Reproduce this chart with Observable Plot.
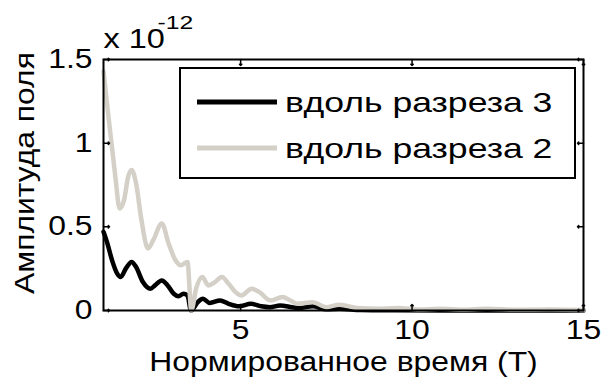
<!DOCTYPE html>
<html>
<head>
<meta charset="utf-8">
<script src="https://cdn.jsdelivr.net/npm/d3@7"></script>
<script src="https://cdn.jsdelivr.net/npm/@observablehq/plot@0.6"></script>
<style>
  html, body { margin: 0; padding: 0; background: white; }
  #chart { width: 611px; height: 389px; }
</style>
</head>
<body>
<div id="chart"></div>
<script>
// Series names and colours
const seriesNames = ["вдоль разреза 3", "вдоль разреза 2"];
const seriesColors = ["#000000", "#d4d0c8"];

// Series "вдоль разреза 3" (black), amplitude in units of 1e-12
const t3 = [1.0, 1.1, 1.25, 1.4, 1.5, 1.65, 1.82, 1.95, 2.15, 2.37, 2.5, 2.7, 2.87, 3.05, 3.19, 3.33, 3.45, 3.55, 3.75, 3.9, 4.1, 4.4, 4.65, 4.95, 5.3, 5.6, 5.85, 6.15, 6.5, 6.7, 7.1, 7.5, 7.9, 8.5, 9.5, 11, 15];
const v3 = [0.47, 0.41, 0.30, 0.22, 0.20, 0.25, 0.29, 0.26, 0.17, 0.13, 0.15, 0.18, 0.15, 0.10, 0.085, 0.10, 0.09, 0.0, 0.05, 0.07, 0.045, 0.06, 0.04, 0.025, 0.04, 0.025, 0.02, 0.03, 0.02, 0.015, 0.025, 0.008, 0.01, 0.003, 0.001, 0.0, 0.0];

// Series "вдоль разреза 2" (grey)
const t2 = [1.0, 1.1, 1.25, 1.35, 1.47, 1.6, 1.72, 1.82, 1.95, 2.1, 2.3, 2.45, 2.7, 2.9, 3.1, 3.25, 3.45, 3.56, 3.7, 3.88, 4.06, 4.25, 4.45, 4.65, 4.85, 5.02, 5.32, 5.55, 5.87, 6.22, 6.45, 6.66, 7.1, 7.5, 7.88, 8.4, 9.0, 9.6, 10.2, 10.8, 11.5, 12.2, 13.0, 14.0, 15.0];
const v2 = [1.43, 1.24, 0.97, 0.79, 0.61, 0.66, 0.80, 0.84, 0.76, 0.55, 0.37, 0.42, 0.52, 0.40, 0.30, 0.27, 0.29, 0.0, 0.13, 0.20, 0.15, 0.17, 0.20, 0.16, 0.11, 0.09, 0.13, 0.11, 0.06, 0.08, 0.06, 0.04, 0.05, 0.02, 0.035, 0.015, 0.01, 0.015, 0.006, 0.01, 0.005, 0.01, 0.004, 0.006, 0.003];

// Tick values
const xTicks = [5, 10, 15];
const yTicks = [0, 0.5, 1, 1.5];

const data3 = t3.map((t, i) => ({t, v: v3[i]}));
const data2 = t2.map((t, i) => ({t, v: v2[i]}));

const FONT = "'Liberation Sans', Arial, sans-serif";
const FS = 27;

const plot = Plot.plot({
  width: 611,
  height: 389,
  marginLeft: 103,
  marginRight: 28,
  marginTop: 59,
  marginBottom: 79,
  style: {fontFamily: FONT, fontSize: FS + "px", color: "black", background: "white"},
  x: {domain: [1, 15]},
  y: {domain: [0, 1.5]},
  marks: [
    Plot.line(data3, {x: "t", y: "v", stroke: seriesColors[0], strokeWidth: 4.5, curve: "monotone-x"}),
    Plot.line(data2, {x: "t", y: "v", stroke: seriesColors[1], strokeWidth: 4.5, curve: "monotone-x"}),
    Plot.axisX({ticks: xTicks, tickSize: 0, tickPadding: 9, label: null, fontSize: FS, tickFormat: d => String(d)}),
    Plot.axisY({ticks: yTicks, tickSize: 0, tickPadding: 11, label: null, fontSize: FS, tickFormat: d => String(d)}),
    // inward ticks on all four sides
    Plot.vector(xTicks, {x: d => d, y: 0, length: 6, rotate: 0, anchor: "start", stroke: "black", strokeWidth: 1.5}),
    Plot.vector(xTicks, {x: d => d, y: 1.5, length: 6, rotate: 180, anchor: "start", stroke: "black", strokeWidth: 1.5}),
    Plot.vector(yTicks, {x: 1, y: d => d, length: 6, rotate: 90, anchor: "start", stroke: "black", strokeWidth: 1.5}),
    Plot.vector(yTicks, {x: 15, y: d => d, length: 6, rotate: -90, anchor: "start", stroke: "black", strokeWidth: 1.5}),
    Plot.frame({stroke: "black", strokeWidth: 2}),
    Plot.text(["Нормированное время (Т)"], {frameAnchor: "bottom", textAnchor: "middle", lineAnchor: "middle", dy: 52, fontSize: FS, fill: "black"}),
    Plot.text(["Амплитуда поля"], {frameAnchor: "left", textAnchor: "middle", lineAnchor: "middle", rotate: -90, dx: -78, dy: -12, fontSize: FS, fill: "black"}),
    Plot.text(["x 10"], {frameAnchor: "top-left", textAnchor: "start", lineAnchor: "bottom", dy: -12, fontSize: FS, fill: "black"}),
    Plot.text(["-12"], {frameAnchor: "top-left", textAnchor: "start", lineAnchor: "bottom", dx: 54, dy: -31, fontSize: 19, fill: "black"})
  ]
});

document.getElementById("chart").appendChild(plot);

// The reference text is horizontally stretched: widen glyphs along the text direction
function stretch(sel, k) {
  sel.each(function () {
    const len = this.getComputedTextLength();
    if (len > 0) {
      this.setAttribute("textLength", (len * k).toFixed(1));
      this.setAttribute("lengthAdjust", "spacingAndGlyphs");
    }
  });
}
const svg = d3.select(plot);
const allText = svg.selectAll("text");
stretch(allText.filter(function () { return this.textContent === "x 10"; }), 1.2);
stretch(allText.filter(function () { return this.textContent === "-12"; }), 1.3);
stretch(allText.filter(function () { return this.textContent !== "x 10" && this.textContent !== "-12"; }), 1.18);

// Legend box inside the axes
const lg = svg.append("g").attr("font-family", FONT).attr("font-size", 28).attr("text-anchor", "start");
lg.append("rect").attr("x", 180).attr("y", 68).attr("width", 395).attr("height", 110)
  .attr("fill", "white").attr("stroke", "black").attr("stroke-width", 2);
const rows = [102, 148];
seriesNames.forEach((name, i) => {
  lg.append("line").attr("x1", 197).attr("x2", 277).attr("y1", rows[i]).attr("y2", rows[i])
    .attr("stroke", seriesColors[i]).attr("stroke-width", 5);
  lg.append("text").attr("x", 285).attr("y", rows[i]).attr("dy", "0.35em")
    .attr("fill", "black").text(name);
});
stretch(lg.selectAll("text"), 1.27);
</script>
</body>
</html>
